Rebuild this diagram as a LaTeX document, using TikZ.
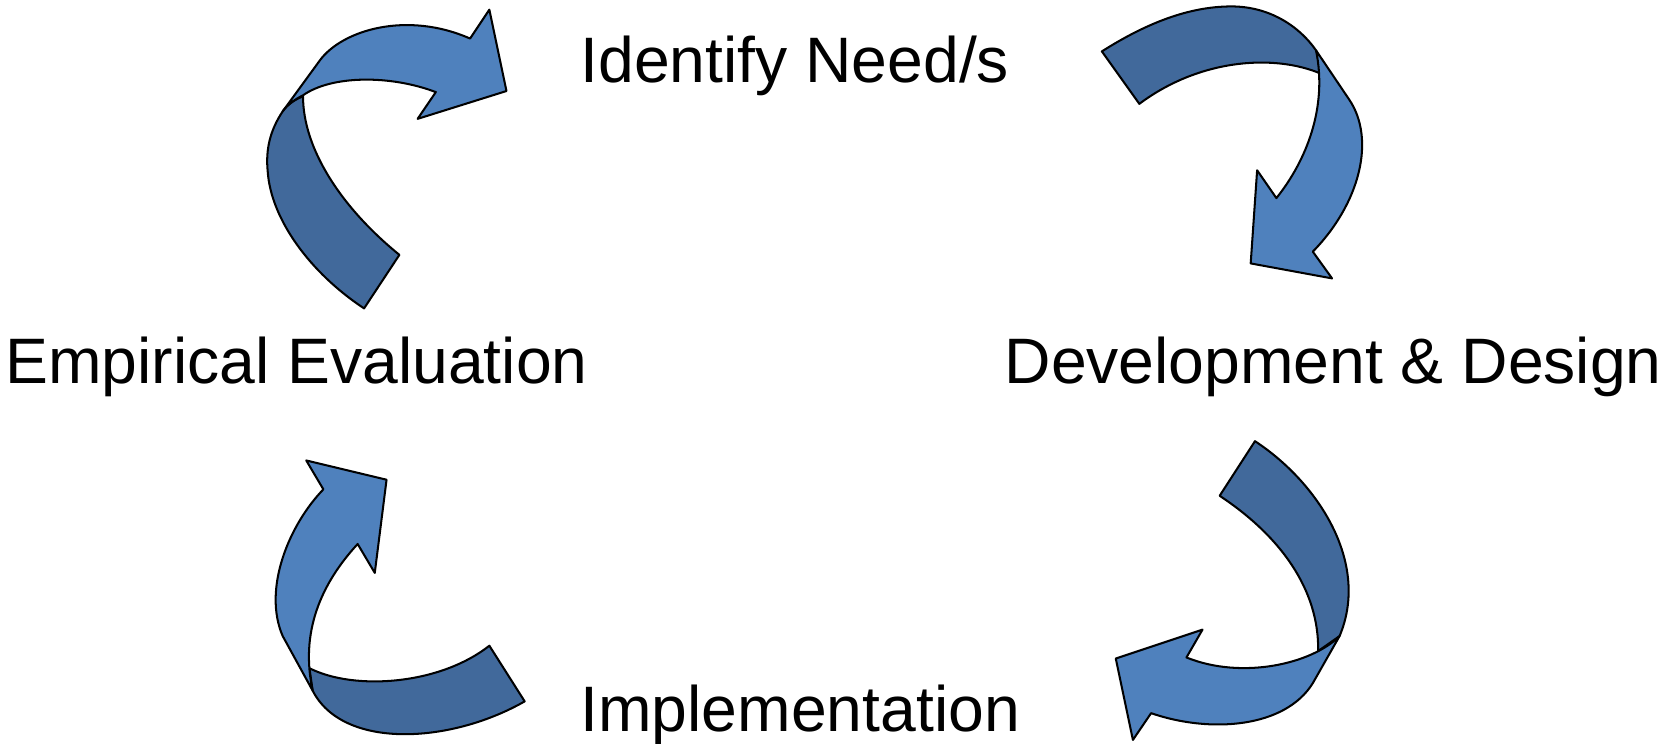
\documentclass[tikz,border=0pt]{standalone}
\usepackage{fontspec}
\setmainfont{Liberation Sans}
\definecolor{lightblue}{HTML}{4F81BD}
\definecolor{darkblue}{HTML}{41699B}
\tikzset{
  lightband/.style={fill=lightblue, draw=black, line width=1.9pt, line join=round},
  darkband/.style={fill=darkblue, draw=black, line width=1.9pt, line join=round},
  label/.style={inner sep=0pt, anchor=base west, font=\fontsize{60}{72}\selectfont},
}
\begin{document}
\begin{tikzpicture}[x=1pt, y=-1pt]
\useasboundingbox (0,0) rectangle (1568,694);

% Arrow 1 (top-left)
\path[darkband] (340,288) -- (373,238)
  .. controls (320,195) and (283,140) .. (283,90)
  .. controls (275,93) and (268,98) .. (264,104)
  .. controls (252,122) and (248,140) .. (250,160)
  .. controls (253,205) and (290,255) .. (340,288)
  -- cycle;
\path[lightband] (264,104) -- (299,56)
  .. controls (320,28) and (380,10) .. (439,36)
  -- (457,9) -- (473,85) -- (390,111) -- (407,86)
  .. controls (365,70) and (310,70) .. (283,89)
  .. controls (275,93) and (268,98) .. (264,104)
  -- cycle;

% Arrow 2 (top-right)
\path[darkband] (1029,48)
  .. controls (1070,22) and (1110,6) .. (1150,6)
  .. controls (1185,6) and (1213,24) .. (1229,47)
  .. controls (1232,54) and (1234,62) .. (1234,69)
  .. controls (1190,50) and (1120,55) .. (1064,97)
  -- cycle;
\path[lightband] (1229,47) -- (1260,93)
  .. controls (1285,130) and (1270,190) .. (1226,235)
  -- (1244,260) -- (1168,246) -- (1174,159) -- (1192,185)
  .. controls (1220,150) and (1240,100) .. (1229,47)
  -- cycle;

% Arrow 3 (bottom-right)
\path[darkband] (1172,412)
  .. controls (1230,450) and (1280,525) .. (1251,594)
  -- (1231,608)
  .. controls (1232,550) and (1195,500) .. (1139,463)
  -- cycle;
\path[lightband] (1251,594)
  .. controls (1225,620) and (1160,635) .. (1108,614)
  -- (1123,588) -- (1042,615) -- (1058,691) -- (1075,666)
  .. controls (1130,685) and (1200,680) .. (1226,638)
  -- cycle;

% Arrow 4 (bottom-left)
\path[darkband] (457,603) -- (490,655)
  .. controls (420,695) and (320,700) .. (292,645)
  -- (289,624)
  .. controls (330,645) and (410,640) .. (457,603)
  -- cycle;
\path[lightband] (292,645) -- (264,594)
  .. controls (245,550) and (270,490) .. (302,457)
  -- (286,430) -- (361,448) -- (350,535) -- (334,508)
  .. controls (300,545) and (280,590) .. (292,645)
  -- cycle;

% Labels
\node[label] (need) at (542,77) {Identify Need/s};
\node[label] (eval) at (5,358) {Empirical Evaluation};
\node[label] (dev) at (938,358) {Development \& Design};
\node[label] (impl) at (542,683) {Implementation};
\end{tikzpicture}
\end{document}
